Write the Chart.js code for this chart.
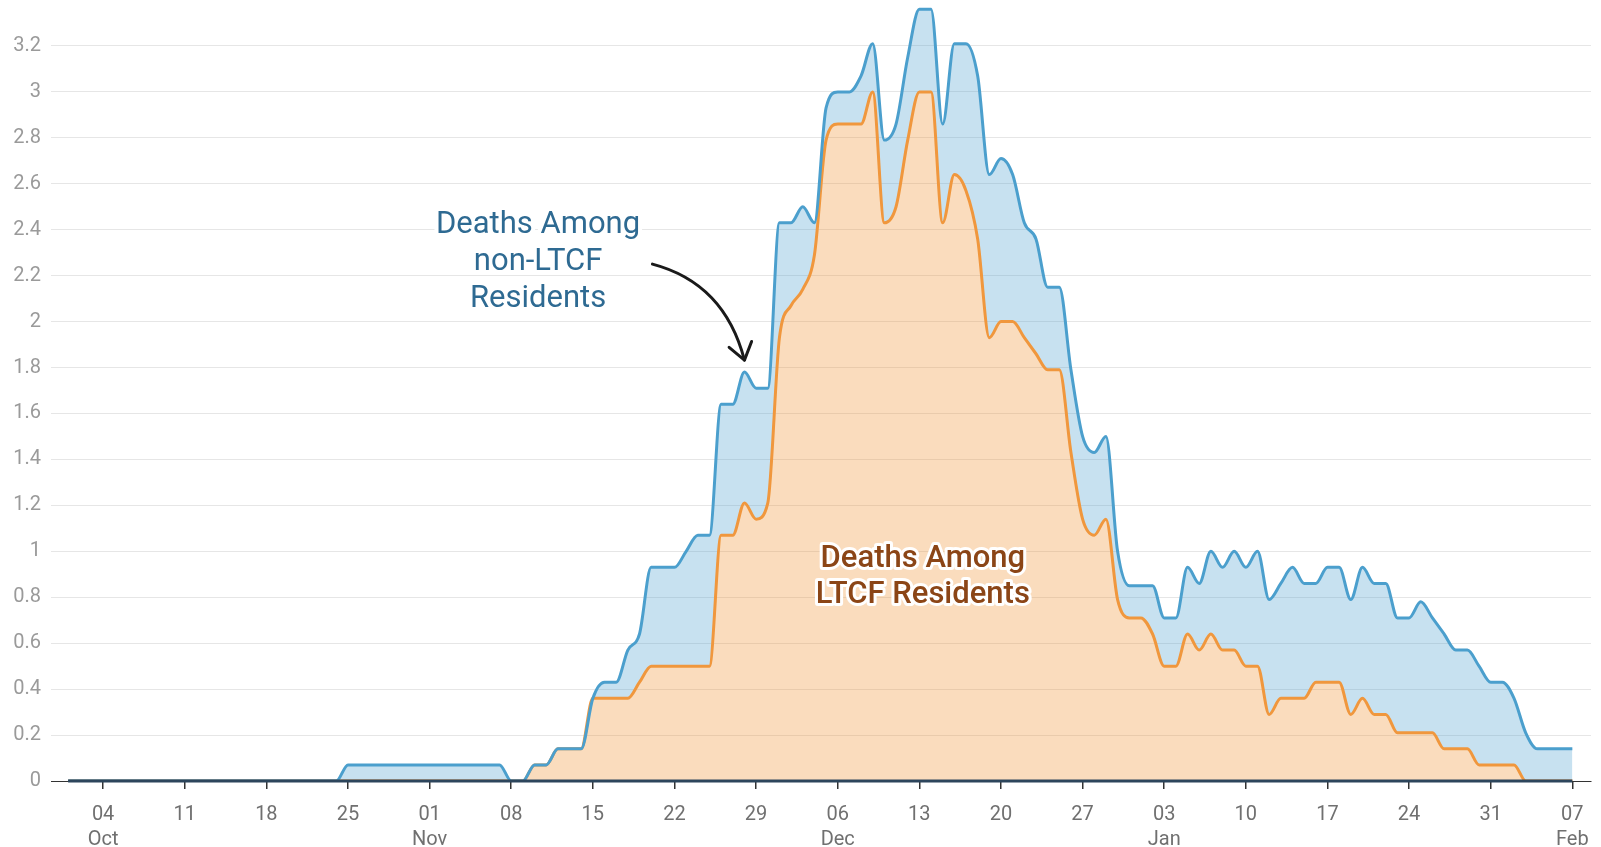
<!DOCTYPE html>
<html>
<head>
<meta charset="utf-8">
<script src="https://cdn.jsdelivr.net/npm/chart.js@4.4.1/dist/chart.umd.min.js"></script>
<style>
html,body{margin:0;padding:0;background:#fff;}
canvas{display:block;}
</style>
</head>
<body>
<canvas id="c" width="1601" height="847"></canvas>
<script>
// ---- data (one value per day, starting at startDate) ----
const startDate = '2020-10-01';
const seriesNames = ['Deaths Among LTCF Residents', 'Deaths Among non-LTCF Residents'];

const ltcfDeaths = [
  0,0,0,0,0,0,0,0,0,0,
  0,0,0,0,0,0,0,0,0,0,
  0,0,0,0,0,0,0,0,0,0,
  0,0,0,0,0,0,0,0,0,0,
  0.07,0.07,0.14,0.14,0.14,0.36,0.36,0.36,0.36,0.43,
  0.5,0.5,0.5,0.5,0.5,0.5,1.07,1.07,1.21,1.14,
  1.21,1.93,2.07,2.14,2.29,2.79,2.86,2.86,2.86,3,
  2.43,2.5,2.79,3,3,2.43,2.64,2.57,2.36,1.93,
  2,2,1.93,1.86,1.79,1.79,1.43,1.14,1.07,1.14,
  0.79,0.71,0.71,0.64,0.5,0.5,0.64,0.57,0.64,0.57,
  0.57,0.5,0.5,0.29,0.36,0.36,0.36,0.43,0.43,0.43,
  0.29,0.36,0.29,0.29,0.21,0.21,0.21,0.21,0.14,0.14,
  0.14,0.07,0.07,0.07,0.07,0,0,0,0,0
];

const nonLtcfDeaths = [
  0,0,0,0,0,0,0,0,0,0,
  0,0,0,0,0,0,0,0,0,0,
  0,0,0,0,0.07,0.07,0.07,0.07,0.07,0.07,
  0.07,0.07,0.07,0.07,0.07,0.07,0.07,0.07,0,0,
  0,0,0,0,0,0,0.07,0.07,0.21,0.21,
  0.43,0.43,0.43,0.5,0.57,0.57,0.57,0.57,0.57,0.57,
  0.5,0.5,0.36,0.36,0.14,0.14,0.14,0.14,0.21,0.21,
  0.36,0.36,0.36,0.36,0.36,0.43,0.57,0.64,0.71,0.71,
  0.71,0.64,0.5,0.5,0.36,0.36,0.36,0.36,0.36,0.36,
  0.21,0.14,0.14,0.21,0.21,0.21,0.29,0.29,0.36,0.36,
  0.43,0.43,0.5,0.5,0.5,0.57,0.5,0.43,0.5,0.5,
  0.5,0.57,0.57,0.57,0.5,0.5,0.57,0.5,0.5,0.43,
  0.43,0.43,0.36,0.36,0.29,0.21,0.14,0.14,0.14,0.14
];

const tickDates = ['2020-10-04','2020-10-11','2020-10-18','2020-10-25','2020-11-01','2020-11-08',
  '2020-11-15','2020-11-22','2020-11-29','2020-12-06','2020-12-13','2020-12-20','2020-12-27',
  '2021-01-03','2021-01-10','2021-01-17','2021-01-24','2021-01-31','2021-02-07'];
const tickLabels = [['04','Oct'],['11'],['18'],['25'],['01','Nov'],['08'],['15'],['22'],['29'],
  ['06','Dec'],['13'],['20'],['27'],['03','Jan'],['10'],['17'],['24'],['31'],['07','Feb']];
const yTicks = [0,0.2,0.4,0.6,0.8,1,1.2,1.4,1.6,1.8,2,2.2,2.4,2.6,2.8,3,3.2];

// ---- build tables for the library ----
const dayOf = s => Math.round((Date.parse(s) - Date.parse(startDate)) / 864e5);
const tickDays = tickDates.map(dayOf);
const ltcfPts = ltcfDeaths.map((v, i) => ({x: i, y: v}));
const topPts = ltcfDeaths.map((v, i) => ({x: i, y: +(v + nonLtcfDeaths[i]).toFixed(2)}));

Chart.defaults.font.family = 'Roboto, "Noto Sans", sans-serif';

const annot = {
  id: 'annot',
  afterDatasetsDraw(chart) {
    const {ctx, scales: {x, y}} = chart;
    ctx.save();
    // dark baseline along the data range
    ctx.strokeStyle = '#2c455c';
    ctx.lineWidth = 3;
    ctx.beginPath();
    ctx.moveTo(x.getPixelForValue(0), y.getPixelForValue(0));
    ctx.lineTo(x.getPixelForValue(ltcfDeaths.length - 1), y.getPixelForValue(0));
    ctx.stroke();

    const drawText = (lines, cx, cy, lh, color, weight, halo) => {
      ctx.font = weight + ' 31px Roboto';
      ctx.textAlign = 'center';
      ctx.textBaseline = 'middle';
      ctx.lineJoin = 'round';
      lines.forEach((t, k) => {
        ctx.strokeStyle = '#fff';
        ctx.lineWidth = halo;
        ctx.strokeText(t, cx, cy + k * lh);
        ctx.fillStyle = color;
        ctx.fillText(t, cx, cy + k * lh);
      });
    };
    drawText(['Deaths Among', 'non-LTCF', 'Residents'], x.getPixelForValue(40.3), y.getPixelForValue(2.42), 37.3, '#2e6a92', 400, 8);
    drawText(['Deaths Among', 'LTCF Residents'], x.getPixelForValue(73.3), y.getPixelForValue(0.965), 35.8, '#8b4516', 500, 6);

    // arrow pointing at the non-LTCF bump
    const tx = x.getPixelForValue(58), ty = y.getPixelForValue(topPts[58].y) - 12;
    const sx = tx - 92, sy = ty - 96, qx = tx - 20, qy = ty - 77;
    ctx.strokeStyle = '#1a1a1a';
    ctx.lineWidth = 3;
    ctx.lineCap = 'round';
    ctx.beginPath();
    ctx.moveTo(sx, sy);
    ctx.quadraticCurveTo(qx, qy, tx, ty);
    ctx.stroke();
    const ang = Math.atan2(ty - qy, tx - qx) + Math.PI;
    const L = 20, spread = 0.62;
    ctx.beginPath();
    ctx.moveTo(tx + L * Math.cos(ang - spread), ty + L * Math.sin(ang - spread));
    ctx.lineTo(tx, ty);
    ctx.lineTo(tx + L * Math.cos(ang + spread), ty + L * Math.sin(ang + spread));
    ctx.stroke();
    ctx.restore();
  }
};

new Chart(document.getElementById('c'), {
  type: 'line',
  data: {
    datasets: [
      {
        label: seriesNames[1],
        data: topPts,
        borderColor: '#4b9fcd',
        backgroundColor: 'rgba(75,159,205,0.31)',
        borderWidth: 3,
        fill: '+1',
        pointRadius: 0,
        cubicInterpolationMode: 'monotone'
      },
      {
        label: seriesNames[0],
        data: ltcfPts,
        borderColor: '#f0973d',
        backgroundColor: 'rgba(240,151,61,0.34)',
        borderWidth: 3,
        fill: 'origin',
        pointRadius: 0,
        cubicInterpolationMode: 'monotone'
      }
    ]
  },
  options: {
    responsive: false,
    animation: false,
    devicePixelRatio: 1,
    layout: {padding: {left: 0, right: 10, top: 0, bottom: 0}},
    plugins: {
      legend: {display: false},
      tooltip: {enabled: false},
      filler: {drawTime: 'beforeDatasetsDraw'}
    },
    scales: {
      x: {
        type: 'linear',
        min: -1.47,
        max: 130.6,
        afterBuildTicks: s => { s.ticks = tickDays.map(v => ({value: v})); },
        afterFit: s => { s.height = 66; s.paddingLeft = 0; s.paddingRight = 0; },
        ticks: {
          autoSkip: false,
          maxRotation: 0,
          color: '#707070',
          font: {size: 20, lineHeight: 1.28},
          padding: 13,
          callback: (v, i) => tickLabels[i]
        },
        grid: {drawOnChartArea: false, drawTicks: true, tickLength: 8, color: '#333', lineWidth: 1.5},
        border: {display: true, color: '#333', width: 1}
      },
      y: {
        min: 0,
        max: 3.4,
        afterBuildTicks: s => { s.ticks = yTicks.map(v => ({value: v})); },
        afterFit: s => { s.width = 51; s.paddingTop = 0; s.paddingBottom = 0; },
        ticks: {
          color: '#9a9a9a',
          font: {size: 20},
          padding: 10,
          callback: v => String(+v.toFixed(1))
        },
        grid: {color: '#e6e6e6', lineWidth: 1, drawTicks: false},
        border: {display: false}
      }
    }
  },
  plugins: [annot]
});
</script>
</body>
</html>
